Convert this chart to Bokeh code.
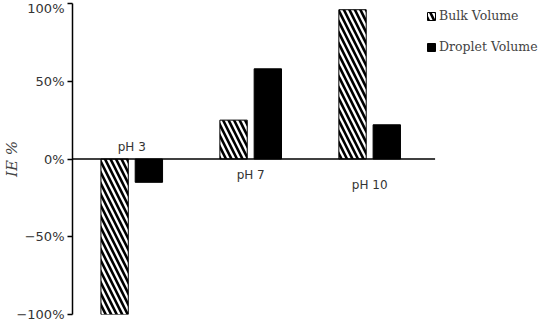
from bokeh.plotting import figure
from bokeh.models import Range1d, Legend, LegendItem, ColumnDataSource, FixedTicker
from bokeh.transform import dodge
from bokeh.core.properties import value
from bokeh.embed import file_html
from bokeh.resources import INLINE

categories = ["pH 3", "pH 7", "pH 10"]
bulk = [-100, 25, 96]
droplet = [-15, 58, 22]
label_y = [8, -10, -17]
y_ticks = [-100, -50, 0, 50, 100]

idx = list(range(len(categories)))
src = ColumnDataSource(dict(x=idx, cat=categories, bulk=bulk, droplet=droplet, ly=label_y))

p = figure(width=542, height=324, x_range=Range1d(-0.498, 3.453),
           y_range=(-100, 100), output_backend="svg", toolbar_location=None,
           min_border_left=62, min_border_right=0, min_border_top=3, min_border_bottom=10)

rb = p.vbar(x=dodge("x", -0.144), top="bulk", width=0.23, source=src,
            fill_color="white", line_color="black", line_width=1,
            hatch_pattern="left_diagonal_line", hatch_color="black", hatch_scale=11, hatch_weight=2.6)
rd = p.vbar(x=dodge("x", 0.144), top="droplet", width=0.23, source=src,
            fill_color="black", line_color="black")

p.text(x="x", y="ly", text="cat", source=src, text_align="center", text_baseline="middle",
       text_font=value("DejaVu Sans"), text_font_size="12px", text_color="#333333")

# zero baseline spanning the category area
p.line(x=[-0.5, len(categories) - 0.45], y=[0, 0], line_color="black", line_width=1.5)

p.xaxis.visible = False
p.xgrid.visible = False
p.ygrid.visible = False
p.outline_line_color = None

ax = p.yaxis[0]
ax.ticker = FixedTicker(ticks=y_ticks)
ax.major_label_overrides = {t: f"{t}%".replace("-", "\u2212") for t in y_ticks}
ax.minor_tick_line_color = None
ax.major_tick_in = 0
ax.major_tick_out = 5
ax.major_label_standoff = 3
ax.axis_line_width = 1.5
ax.major_tick_line_width = 1.5
ax.major_label_text_font = "DejaVu Sans"
ax.major_label_text_font_size = "13px"
ax.major_label_text_color = "#333333"
ax.axis_label = "IE %"
ax.axis_label_text_font = "DejaVu Serif"
ax.axis_label_text_font_style = "italic"
ax.axis_label_text_font_size = "15px"
ax.axis_label_standoff = -8

legend = Legend(items=[LegendItem(label="Bulk Volume", renderers=[rb]),
                       LegendItem(label="Droplet Volume", renderers=[rd])],
                location=(354, 260), orientation="vertical")
legend.padding = 0
legend.margin = 0
legend.spacing = 16
legend.glyph_width = 10
legend.glyph_height = 10
legend.label_height = 12
legend.label_standoff = 3
legend.border_line_alpha = 0
legend.background_fill_alpha = 0
legend.label_text_font = "DejaVu Serif"
legend.label_text_font_size = "12.5px"
p.add_layout(legend, "center")

open("out.html", "w").write(file_html(p, INLINE))
